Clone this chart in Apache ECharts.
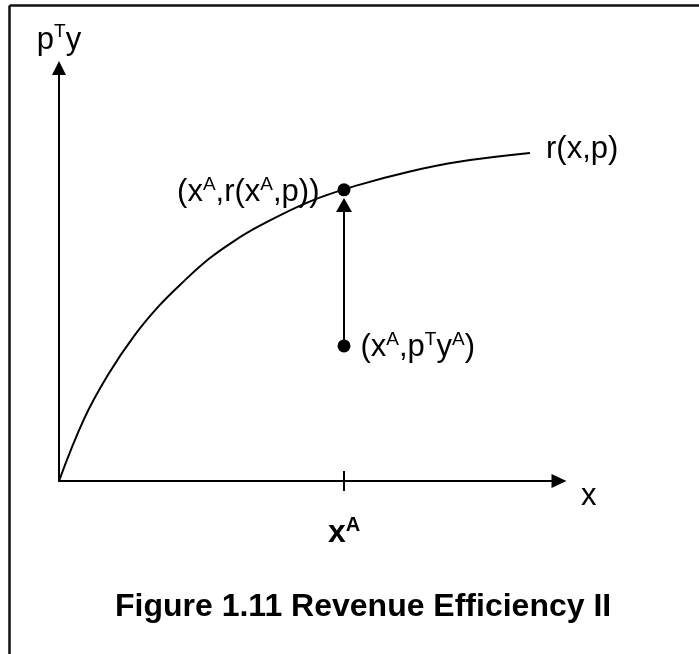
<!DOCTYPE html>
<html>
<head>
<meta charset="utf-8">
<script src="https://cdn.jsdelivr.net/npm/echarts@6/dist/echarts.min.js"></script>
<style>
  html, body { margin: 0; padding: 0; background: #fff; }
  #chart { width: 699px; height: 654px; }
</style>
</head>
<body>
<div id="chart"></div>
<script>
// curve r(x,p) (x and y in axis units 0..10)
const curveX = [0, 0.5, 1, 1.5, 2, 2.5, 3, 3.5, 4, 5, 6, 7, 8, 9.42];
const curveY = [0, 1.5, 2.61, 3.51, 4.24, 4.84, 5.38, 5.81, 6.17, 6.76, 7.17, 7.49, 7.73, 7.94];

// the observed firm A
const xA = 5.7;
const revenueA = 7.05;   // r(xA, p), on the curve
const observedA = 3.27;  // p'yA
const arrowTop = 6.68;

const font = 'Liberation Sans, Arial, sans-serif';
const base = { fontSize: 31, lineHeight: 36, fontFamily: font, color: '#000' };
const sup = { fontSize: 19, lineHeight: 26, verticalAlign: 'top', fontFamily: font, color: '#000' };

const chart = echarts.init(document.getElementById('chart'));

const option = {
    animation: false,
    backgroundColor: '#fff',
    title: {
        text: 'Figure 1.11 Revenue Efficiency II',
        left: 110,
        top: 586,
        textStyle: { fontFamily: font, fontSize: 32, fontWeight: 'bold', color: '#000' }
    },
    grid: { left: 59, top: 68, width: 500, height: 413, containLabel: false, outerBoundsMode: 'none' },
    xAxis: {
        type: 'value',
        min: 0,
        max: 10,
        name: 'x',
        nameLocation: 'end',
        nameGap: 22,
        nameTextStyle: { fontFamily: font, fontSize: 31, color: '#000', verticalAlign: 'top' },
        axisLine: { show: true, onZero: false, symbol: ['none', 'triangle'], symbolSize: [14, 15], lineStyle: { color: '#000', width: 2 } },
        axisTick: { show: false },
        axisLabel: { show: false },
        splitLine: { show: false }
    },
    yAxis: {
        type: 'value',
        min: 0,
        max: 10,
        name: '{b|p}{s|T}{b|y}',
        nameLocation: 'end',
        nameGap: 10,
        nameTextStyle: { rich: { b: base, s: sup } },
        axisLine: { show: true, onZero: false, symbol: ['none', 'triangle'], symbolSize: [14, 14], lineStyle: { color: '#000', width: 2 } },
        axisTick: { show: false },
        axisLabel: { show: false },
        splitLine: { show: false }
    },
    series: [
        {
            name: 'r(x,p)',
            type: 'line',
            data: curveX.map((x, i) => [x, curveY[i]]),
            smooth: 0.4,
            showSymbol: false,
            lineStyle: { color: '#000', width: 2 },
            endLabel: {
                show: true,
                formatter: 'r(x,p)',
                distance: 16,
                offset: [0, -4],
                fontFamily: font,
                fontSize: 31,
                color: '#000'
            }
        },
        {
            name: 'A',
            type: 'scatter',
            symbolSize: 13,
            itemStyle: { color: '#000', opacity: 1 },
            data: [
                {
                    value: [xA, revenueA],
                    label: {
                        show: true,
                        position: 'left',
                        distance: 18,
                        offset: [0, 3],
                        formatter: '{b|(x}{s|A}{b|,r(x}{s|A}{b|,p))}',
                        rich: { b: base, s: sup }
                    }
                },
                {
                    value: [xA, observedA],
                    label: {
                        show: true,
                        position: 'right',
                        distance: 10,
                        offset: [0, 2],
                        formatter: '{b|(x}{s|A}{b|,p}{s|T}{b|y}{s|A}{b|)}',
                        rich: { b: base, s: sup }
                    }
                }
            ],
            markLine: {
                silent: true,
                symbol: ['none', 'triangle'],
                symbolSize: [16, 14],
                label: { show: false },
                lineStyle: { color: '#000', width: 2, type: 'solid', opacity: 1 },
                data: [[{ coord: [xA, observedA] }, { coord: [xA, arrowTop] }]]
            }
        },
        {
            name: 'tick',
            type: 'scatter',
            symbol: 'rect',
            symbolSize: [2, 20],
            itemStyle: { color: '#000', opacity: 1 },
            data: [[xA, 0]],
            label: {
                show: true,
                position: 'bottom',
                distance: 24,
                formatter: '{b|x}{s|A}',
                rich: {
                    b: { fontSize: 32, lineHeight: 36, fontWeight: 'bold', fontFamily: font, color: '#000' },
                    s: { fontSize: 20, lineHeight: 26, verticalAlign: 'top', fontWeight: 'bold', fontFamily: font, color: '#000' }
                }
            }
        }
    ],
    graphic: [
        { type: 'line', shape: { x1: 9.5, y1: 5.5, x2: 699, y2: 5.5 }, style: { stroke: '#111', lineWidth: 2.5 } },
        { type: 'line', shape: { x1: 9.5, y1: 5.5, x2: 9.5, y2: 654 }, style: { stroke: '#111', lineWidth: 2.5 } }
    ]
};

chart.setOption(option);
</script>
</body>
</html>
